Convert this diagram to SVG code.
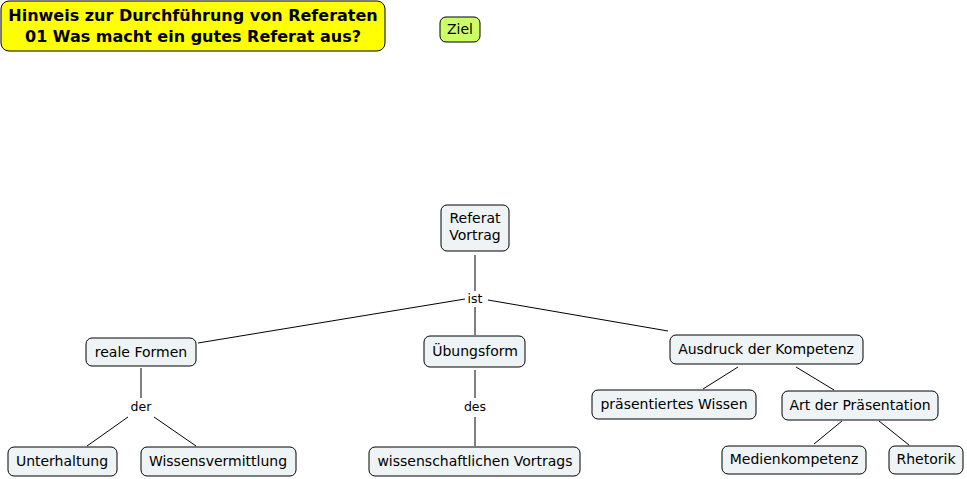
<svg xmlns="http://www.w3.org/2000/svg" width="967" height="479" viewBox="0 0 967 479">
<style>
.n{fill:#EEF3F5;stroke:#000;stroke-width:1}
.t{font-family:"DejaVu Sans",Verdana,sans-serif;font-size:14px;fill:#000;text-anchor:middle}
.l{font-family:"DejaVu Sans",Verdana,sans-serif;font-size:12.5px;fill:#000;text-anchor:middle}
.c line{stroke:#000;stroke-width:1}
</style>
<rect width="967" height="479" fill="#fff"/>
<g id="title">
<rect x="1" y="1" width="384" height="50" rx="8" fill="#FFFF00" stroke="#000"/>
<text class="t" x="193" y="21" style="font-weight:bold;font-size:16px">Hinweis zur Durchführung von Referaten</text>
<text class="t" x="193" y="42" style="font-weight:bold;font-size:16px">01 Was macht ein gutes Referat aus?</text>
</g>
<g id="ziel">
<rect x="440" y="17" width="40" height="25" rx="6" fill="#CCFF66" stroke="#000"/>
<text class="t" x="460" y="34">Ziel</text>
</g>
<g class="c" id="connectors">
<line x1="475" y1="255" x2="475" y2="291"/>
<line x1="475" y1="307" x2="475" y2="335"/>
<line x1="465" y1="299" x2="198" y2="343"/>
<line x1="488" y1="300" x2="668" y2="331"/>
<line x1="141" y1="368" x2="141" y2="398"/>
<line x1="128" y1="417" x2="87" y2="446"/>
<line x1="154" y1="417" x2="196" y2="446"/>
<line x1="475" y1="370" x2="475" y2="398"/>
<line x1="475" y1="417" x2="475" y2="446"/>
<line x1="738" y1="367" x2="703" y2="389"/>
<line x1="796" y1="367" x2="834" y2="390"/>
<line x1="842" y1="421" x2="814" y2="444"/>
<line x1="879" y1="421" x2="909" y2="445"/>
<text class="l" x="475" y="303">ist</text>
<text class="l" x="141" y="411">der</text>
<text class="l" x="475" y="411">des</text>
</g>
<g id="referat">
<rect class="n" x="441" y="205" width="68" height="46" rx="6"/>
<text class="t" x="475" y="223">Referat</text>
<text class="t" x="475" y="240">Vortrag</text>
</g>
<g id="realeFormen">
<rect class="n" x="86" y="338" width="110" height="28" rx="6"/>
<text class="t" x="141" y="357">reale Formen</text>
</g>
<g id="uebungsform">
<rect class="n" x="424" y="336" width="101" height="31" rx="6"/>
<text class="t" x="475" y="356">Übungsform</text>
</g>
<g id="ausdruck">
<rect class="n" x="670" y="335" width="193" height="29" rx="6"/>
<text class="t" x="766" y="354">Ausdruck der Kompetenz</text>
</g>
<g id="unterhaltung">
<rect class="n" x="8" y="447" width="109" height="29" rx="6"/>
<text class="t" x="62" y="466">Unterhaltung</text>
</g>
<g id="wissensvermittlung">
<rect class="n" x="141" y="447" width="155" height="29" rx="6"/>
<text class="t" x="218" y="466">Wissensvermittlung</text>
</g>
<g id="wissVortrag">
<rect class="n" x="369" y="447" width="211" height="29" rx="6"/>
<text class="t" x="475" y="466">wissenschaftlichen Vortrags</text>
</g>
<g id="praesWissen">
<rect class="n" x="592" y="390" width="164" height="29" rx="6"/>
<text class="t" x="674" y="409">präsentiertes Wissen</text>
</g>
<g id="artPraes">
<rect class="n" x="782" y="391" width="156" height="29" rx="6"/>
<text class="t" x="860" y="410">Art der Präsentation</text>
</g>
<g id="medien">
<rect class="n" x="722" y="446" width="144" height="28" rx="6"/>
<text class="t" x="794" y="464">Medienkompetenz</text>
</g>
<g id="rhetorik">
<rect class="n" x="889" y="446" width="74" height="28" rx="6"/>
<text class="t" x="926" y="464">Rhetorik</text>
</g>
</svg>
